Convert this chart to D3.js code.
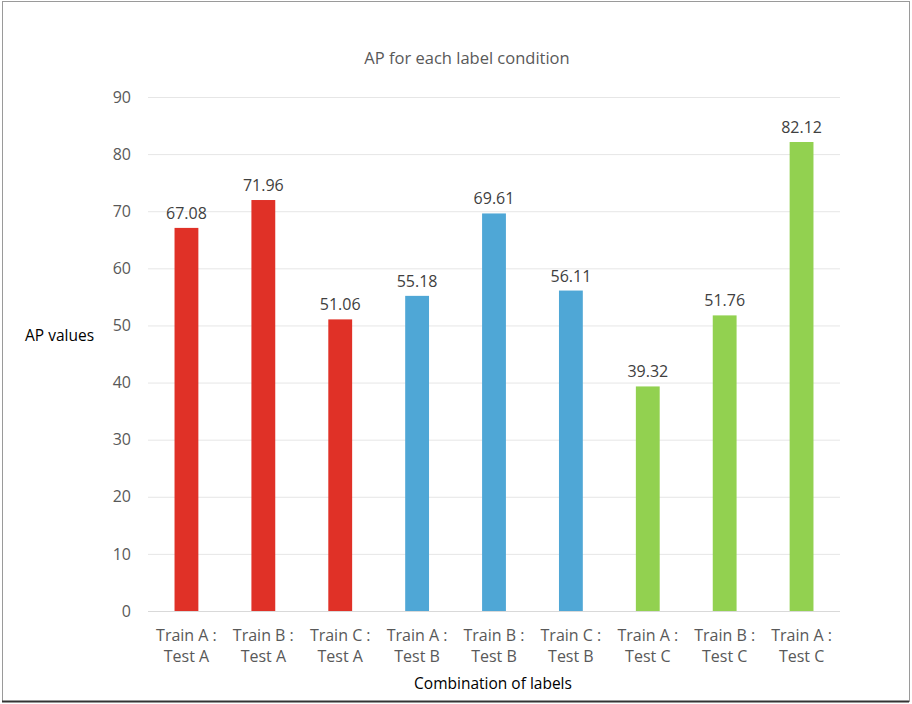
<!DOCTYPE html>
<html>
<head>
<meta charset="utf-8">
<script src="https://cdn.jsdelivr.net/npm/d3@7"></script>
<style>
  html, body { margin: 0; padding: 0; background: #fff; }
  svg { display: block; }
</style>
</head>
<body>
<svg id="chart" width="912" height="704"></svg>
<script>
// AP scores for each train/test label combination
const trainLabels = ["Train A :", "Train B :", "Train C :", "Train A :", "Train B :", "Train C :", "Train A :", "Train B :", "Train A :"];
const testLabels  = ["Test A", "Test A", "Test A", "Test B", "Test B", "Test B", "Test C", "Test C", "Test C"];
const apValues    = [67.08, 71.96, 51.06, 55.18, 69.61, 56.11, 39.32, 51.76, 82.12];
const testGroups  = ["A", "A", "A", "B", "B", "B", "C", "C", "C"];
const yTicks      = [0, 10, 20, 30, 40, 50, 60, 70, 80, 90];

const groupColor = { A: "#E03127", B: "#4FA7D6", C: "#92D150" };
const font = "'Open Sans', Lato, sans-serif";

const svg = d3.select("#chart");
const W = 912, H = 704;

// frame around the chart area
svg.append("rect")
  .attr("x", 2.5).attr("y", 1.5).attr("width", W - 5).attr("height", H - 4)
  .attr("fill", "none").attr("stroke", "#9a9a9a").attr("stroke-width", 1);
svg.append("line")
  .attr("x1", 2).attr("x2", W - 3).attr("y1", H - 2.5).attr("y2", H - 2.5)
  .attr("stroke", "#333").attr("stroke-width", 2);

const plot = { left: 148, right: 840, top: 97, bottom: 611 };
const ids = apValues.map((d, i) => i);

const x = d3.scaleBand().domain(ids).range([plot.left, plot.right]).paddingInner(0.69).paddingOuter(0.345);
const y = d3.scaleLinear().domain([0, 90]).range([plot.bottom, plot.top]);

// horizontal gridlines and y tick labels
const yAxis = d3.axisLeft(y).tickValues(yTicks).tickSize(-(plot.right - plot.left)).tickPadding(17);
const gy = svg.append("g").attr("transform", `translate(${plot.left},0)`).call(yAxis);
gy.select(".domain").remove();
gy.selectAll(".tick line").attr("stroke", "#e6e6e6").attr("stroke-width", 1);
gy.selectAll(".tick text")
  .attr("fill", "#595959").attr("font-family", font).attr("font-size", 16);

// bars
svg.append("g").selectAll("rect").data(ids).join("rect")
  .attr("x", i => x(i))
  .attr("width", x.bandwidth())
  .attr("y", i => y(apValues[i]))
  .attr("height", i => y(0) - y(apValues[i]))
  .attr("fill", i => groupColor[testGroups[i]]);

// baseline
svg.append("line")
  .attr("x1", plot.left).attr("x2", plot.right)
  .attr("y1", y(0) + 0.5).attr("y2", y(0) + 0.5)
  .attr("stroke", "#d9d9d9");

// value labels
svg.append("g").selectAll("text").data(ids).join("text")
  .attr("x", i => x(i) + x.bandwidth() / 2)
  .attr("y", i => y(apValues[i]) - 9)
  .attr("text-anchor", "middle")
  .attr("font-family", font).attr("font-size", 16).attr("fill", "#404040")
  .text(i => apValues[i].toFixed(2));

// two-line category labels
const xl = svg.append("g").selectAll("text").data(ids).join("text")
  .attr("text-anchor", "middle")
  .attr("font-family", font).attr("font-size", 16).attr("fill", "#595959");
xl.append("tspan").attr("x", i => x(i) + x.bandwidth() / 2).attr("y", 641).text(i => trainLabels[i]);
xl.append("tspan").attr("x", i => x(i) + x.bandwidth() / 2).attr("y", 662).text(i => testLabels[i]);

// title and axis titles
svg.append("text").attr("x", 467).attr("y", 64).attr("text-anchor", "middle")
  .attr("font-family", font).attr("font-size", 16.5).attr("fill", "#595959")
  .text("AP for each label condition");
svg.append("text").attr("x", 493).attr("y", 689).attr("text-anchor", "middle")
  .attr("font-family", font).attr("font-size", 15.5).attr("fill", "#000")
  .text("Combination of labels");
svg.append("text").attr("x", 25).attr("y", 341)
  .attr("font-family", font).attr("font-size", 15.5).attr("fill", "#000")
  .text("AP values");
</script>
</body>
</html>
